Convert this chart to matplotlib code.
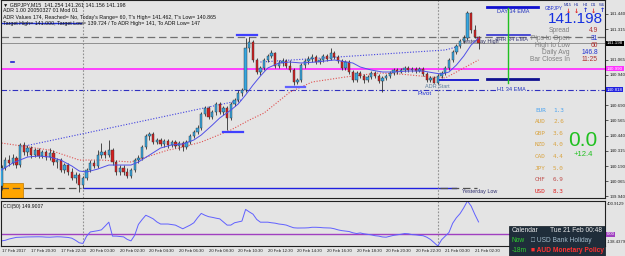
import matplotlib
matplotlib.use("Agg")
import matplotlib.pyplot as plt
from matplotlib.patches import Rectangle
import numpy as np

plt.rcParams['font.family'] = ['Liberation Sans', 'DejaVu Sans']

W, H = 625, 256
BG = '#e4e4e4'

# ---------------- data (GBPJPY M15) ----------------
opens = [140.025, 140.173, 140.239, 140.215, 140.256, 140.198, 140.363, 140.305, 140.338, 140.280,
         140.321, 140.272, 140.305, 140.264, 140.297, 140.223, 140.239, 140.157, 140.198, 140.141,
         140.091, 140.116, 140.034, 140.091, 140.157, 140.215, 140.190, 140.280, 140.305, 140.280,
         140.321, 140.223, 140.141, 140.173, 140.141, 140.108, 140.157, 140.239, 140.256, 140.346,
         140.437, 140.453, 140.387, 140.404, 140.371, 140.395, 140.363, 140.387, 140.354, 140.379,
         140.346, 140.387, 140.437, 140.469, 140.502, 140.618, 140.667, 140.593, 140.634, 140.700,
         140.634, 140.667, 140.585, 140.700, 140.733, 140.790, 140.815, 141.160, 141.210, 141.062,
         140.963, 140.996, 141.062, 141.094, 141.119, 141.012, 141.037, 141.053, 141.012, 140.979,
         140.881, 140.897, 141.020, 141.053, 141.070, 141.086, 141.045, 141.062, 141.094, 141.070,
         141.119, 141.086, 141.053, 140.996, 141.045, 140.963, 140.897, 140.955, 140.930, 140.897,
         140.922, 140.955, 140.930, 140.889, 140.914, 140.930, 140.955, 140.979, 140.963, 140.979,
         140.996, 140.979, 140.988, 140.971, 140.988, 140.946, 140.897, 140.914, 140.872, 140.930,
         140.955, 140.996, 141.062, 141.127, 141.177, 141.218, 141.242, 141.448, 141.308, 141.254]
highs = [140.198, 140.264, 140.280, 140.289, 140.272, 140.379, 140.387, 140.363, 140.354, 140.338,
         140.338, 140.321, 140.321, 140.338, 140.321, 140.256, 140.256, 140.215, 140.215, 140.173,
         140.141, 140.132, 140.108, 140.173, 140.239, 140.239, 140.321, 140.379, 140.321, 140.404,
         140.338, 140.239, 140.198, 140.198, 140.173, 140.173, 140.256, 140.280, 140.363, 140.453,
         140.469, 140.469, 140.420, 140.420, 140.412, 140.412, 140.404, 140.404, 140.395, 140.395,
         140.404, 140.453, 140.486, 140.527, 140.634, 140.683, 140.683, 140.650, 140.716, 140.716,
         140.683, 140.683, 140.716, 140.749, 140.815, 140.831, 141.242, 141.251, 141.226, 141.078,
         141.012, 141.078, 141.111, 141.144, 141.127, 141.062, 141.078, 141.070, 141.062, 140.996,
         140.914, 141.037, 141.070, 141.094, 141.111, 141.103, 141.078, 141.111, 141.111, 141.160,
         141.136, 141.103, 141.070, 141.062, 141.062, 140.979, 140.971, 140.971, 140.946, 140.938,
         140.971, 140.971, 140.946, 140.930, 140.946, 140.971, 140.996, 140.996, 140.996, 141.012,
         141.012, 141.004, 141.004, 141.004, 141.004, 140.963, 140.930, 140.930, 140.946, 140.971,
         141.012, 141.078, 141.144, 141.193, 141.234, 141.267, 141.462, 141.456, 141.349, 141.261]
lows = [139.992, 140.157, 140.190, 140.198, 140.173, 140.182, 140.280, 140.272, 140.256, 140.264,
        140.256, 140.256, 140.239, 140.239, 140.198, 140.173, 140.141, 140.132, 140.116, 140.075,
        140.050, 139.976, 140.009, 140.075, 140.141, 140.173, 140.173, 140.256, 140.256, 140.264,
        140.198, 140.116, 140.116, 140.116, 140.091, 140.091, 140.141, 140.215, 140.239, 140.330,
        140.404, 140.371, 140.371, 140.354, 140.346, 140.338, 140.346, 140.338, 140.321, 140.313,
        140.330, 140.371, 140.420, 140.453, 140.486, 140.601, 140.576, 140.576, 140.609, 140.618,
        140.609, 140.486, 140.568, 140.683, 140.716, 140.766, 140.798, 141.127, 141.045, 140.946,
        140.938, 140.979, 141.045, 141.078, 140.996, 140.996, 141.012, 140.996, 140.963, 140.856,
        140.864, 140.881, 140.996, 141.029, 141.045, 141.029, 141.029, 141.045, 141.053, 141.062,
        141.070, 141.037, 140.979, 140.979, 140.946, 140.881, 140.881, 140.914, 140.872, 140.881,
        140.905, 140.914, 140.872, 140.798, 140.897, 140.914, 140.938, 140.946, 140.955, 140.963,
        140.963, 140.963, 140.955, 140.963, 140.930, 140.881, 140.881, 140.872, 140.865, 140.914,
        140.938, 140.979, 141.045, 141.111, 141.160, 141.201, 141.226, 141.284, 141.242, 141.156]
closes = [140.173, 140.239, 140.215, 140.256, 140.198, 140.363, 140.305, 140.338, 140.280, 140.321,
          140.272, 140.305, 140.264, 140.297, 140.223, 140.239, 140.157, 140.198, 140.141, 140.091,
          140.116, 140.034, 140.091, 140.157, 140.215, 140.190, 140.280, 140.305, 140.280, 140.321,
          140.223, 140.141, 140.173, 140.141, 140.108, 140.157, 140.239, 140.256, 140.346, 140.437,
          140.453, 140.387, 140.404, 140.371, 140.395, 140.363, 140.387, 140.354, 140.379, 140.346,
          140.387, 140.437, 140.469, 140.502, 140.618, 140.667, 140.593, 140.634, 140.700, 140.634,
          140.667, 140.585, 140.700, 140.733, 140.790, 140.815, 141.160, 141.210, 141.062, 140.963,
          140.996, 141.062, 141.094, 141.119, 141.012, 141.037, 141.053, 141.012, 140.979, 140.881,
          140.897, 141.020, 141.053, 141.070, 141.086, 141.045, 141.062, 141.094, 141.070, 141.119,
          141.086, 141.053, 140.996, 141.045, 140.963, 140.897, 140.955, 140.930, 140.897, 140.922,
          140.955, 140.930, 140.889, 140.914, 140.930, 140.955, 140.979, 140.963, 140.979, 140.996,
          140.979, 140.988, 140.971, 140.988, 140.946, 140.897, 140.914, 140.872, 140.930, 140.955,
          140.996, 141.062, 141.127, 141.177, 141.218, 141.242, 141.448, 141.308, 141.254, 141.198]

# moving averages (bar index, price)
ema_idx = [0, 3, 7, 10, 13, 16, 19, 21, 23, 26, 29, 32, 35, 37, 40, 43, 46, 49, 52, 54,
           57, 59, 62, 64, 66, 68, 70, 72, 75, 78, 81, 85, 90, 95, 97, 100, 103, 106, 110, 114,
           117, 119, 121, 123, 125, 127, 129]
ema_val = [140.157, 140.215, 140.264, 140.272, 140.264, 140.239, 140.190, 140.149, 140.141, 140.165,
           140.198, 140.198, 140.198, 140.223, 140.280, 140.338, 140.363, 140.371, 140.404, 140.445,
           140.527, 140.585, 140.650, 140.700, 140.774, 140.856, 140.930, 140.996, 141.037, 141.045,
           141.037, 141.045, 141.062, 141.037, 141.004, 140.979, 140.963, 140.963, 140.971, 140.971,
           140.955, 140.946, 140.963, 141.020, 141.094, 141.185, 141.242]
slow_idx = [0, 13, 21, 27, 35, 45, 48, 54, 62, 67, 71, 78, 84, 93, 102, 108, 116, 120, 124, 129]
slow_val = [140.379, 140.321, 140.239, 140.239, 140.223, 140.321, 140.338, 140.387, 140.486, 140.568,
            140.626, 140.798, 140.881, 140.922, 140.955, 140.946, 140.922, 140.914, 140.979, 141.062]
chan1_idx = [5, 65]
chan1_val = [140.346, 140.733]
chan2_idx = [70, 120, 124]
chan2_val = [141.045, 141.144, 141.177]

# CCI(50)
cci = [-77, -70, -55, -45, -35, -33, -30, -30, -29, -29, -28, -29, -32, -33, -30, -28, -29, -32, -36, -45,
       -70, -100, -108, -20, 30, 37, 45, 55, 100, 147, -20, -20, -25, -29, -60, -77, -10, 120, 178, 230,
       210, 187, 150, 125, 125, 125, 118, 112, 90, 68, 90, 112, 140, 200, 252, 230, 213, 205, 195, 187,
       150, 112, 112, 140, 150, 160, 300, 270, 243, 180, 147, 147, 147, 140, 135, 125, 120, 112, 95, 80,
       77, 77, 78, 80, 86, 86, 84, 80, 78, 77, 68, 55, 46, 40, 35, 20, 11, 18, 8, 2,
       -5, -15, -20, -30, -33, -22, -11, -5, 2, 11, 8, -2, -5, -11, -15, -33, -60, -100, -138.4, -64,
       -20, 24, 134, 200, 250, 320, 400.9, 340, 240, 150]

# levels
yest_high = 141.250
cur_price = 141.198
magenta_lvl = 140.990
h1_ema = 140.818
yest_low = 140.009
day_ema = 141.497
h4_ema = 141.267
adr_lvl = 140.897
prev_line = 141.366

time_idx = [0, 8, 16, 24, 32, 40, 48, 56, 64, 72, 80, 88, 96, 104, 112, 120, 128]
time_lbl = ["17 Feb 2017", "17 Feb 20:30", "17 Feb 22:30", "20 Feb 00:30", "20 Feb 02:30",
            "20 Feb 04:30", "20 Feb 06:30", "20 Feb 08:30", "20 Feb 10:30", "20 Feb 12:30",
            "20 Feb 14:30", "20 Feb 16:30", "20 Feb 18:30", "20 Feb 20:30", "20 Feb 22:30",
            "21 Feb 00:30", "21 Feb 02:30"]
price_ticks = [141.440, 141.315, 141.065, 140.940, 140.690, 140.565, 140.440, 140.315,
               140.190, 140.065, 139.940]
day_breaks = [22, 118]

currencies = ["EUR", "AUD", "GBP", "NZD", "CAD", "JPY", "CHF", "USD"]
strength = [1.3, 2.6, 3.6, 4.0, 4.4, 5.0, 6.9, 8.3]
cur_colors = ['#4aa3f0', '#d9a441', '#d9a441', '#d9a441', '#d9a441', '#d9a441', '#c0504d', '#e02020']

info_lbl = ["Spread", "Pips to Open", "High to Low", "Daily Avg", "Bar Closes In"]
info_val = ["4.9", "31", "60", "146.8", "11:25"]
info_col = ['#b03030', '#2030d0', '#b03030', '#2030d0', '#b03030']

# ---------------- figure ----------------
opens = np.array(opens); highs = np.array(highs); lows = np.array(lows); closes = np.array(closes)
idx = np.arange(len(closes))

fig = plt.figure(figsize=(6.25, 2.56), dpi=100, facecolor=BG)
def fx(px): return px / W
def fy(py): return 1 - py / H

XL = (-0.16, 163.2)
YL = (139.927, 141.555)
ax = fig.add_axes([fx(1), fy(198), 604 / W, 198 / H])
ax.set_facecolor(BG)
ax.set_xlim(*XL)
ax.set_ylim(*YL)
for s in ax.spines.values():
    s.set_color('#202020'); s.set_linewidth(0.8)
ax.set_xticks([])
ax.yaxis.tick_right()
ax.set_yticks(price_ticks)
ax.set_yticklabels([f"{t:.3f}" for t in price_ticks])
ax.tick_params(axis='y', labelsize=3.2, length=2, width=0.5, pad=1, colors='#202020')

# orange box
ax.add_patch(Rectangle((-0.16, YL[0]), 6.0, 140.050 - YL[0], facecolor='#ffa500',
                       edgecolor='#c07800', lw=0.5, zorder=1))

# horizontal levels
ax.axhline(yest_high, color='#707070', lw=0.9, ls=(0, (6, 3)), zorder=1)
ax.axhline(cur_price, color='#909090', lw=0.7, zorder=1)
ax.axhline(magenta_lvl, color='#ff33ff', lw=1.3, zorder=1)
ax.axhline(h1_ema, color='#3030c0', lw=0.8, ls=(0, (5, 2, 1, 2)), zorder=1)
ax.plot([-0.16, 21.5], [prev_line, prev_line], color='#2030d0', lw=1.0, zorder=1)
ax.plot([-0.16, 21.5], [yest_low, yest_low], color='#505050', lw=0.9, ls=(0, (6, 3)), zorder=1)
ax.plot([22, 123], [yest_low, yest_low], color='#2020e0', lw=1.0, zorder=1)
ax.plot([118.5, 128.5], [yest_low, yest_low], color='#505050', lw=0.9, ls=(0, (6, 3)), zorder=1)

for d in day_breaks:
    ax.axvline(d, color='#909090', lw=0.8, ls=(0, (1.5, 1.5)), zorder=1)

# channel / MAs
ax.plot(chan1_idx, chan1_val, color='#4040e0', lw=0.8, ls=(0, (1, 1.5)), zorder=2)
ax.plot(chan2_idx, chan2_val, color='#4040e0', lw=0.8, ls=(0, (1, 1.5)), zorder=2)
ax.plot(slow_idx, slow_val, color='#e05050', lw=0.8, ls=(0, (1, 1.5)), zorder=2)

# candles
up = closes >= opens
ax.vlines(idx, lows, highs, color='#303030', lw=0.6, zorder=3)
bb = np.minimum(opens, closes)
bh = np.maximum(np.abs(closes - opens), 0.004)
ax.bar(idx[up], bh[up], bottom=bb[up], width=0.62, color='#36a6e0', edgecolor='#303030',
       linewidth=0.3, zorder=4)
ax.bar(idx[~up], bh[~up], bottom=bb[~up], width=0.62, color='#d42020', edgecolor='#303030',
       linewidth=0.3, zorder=4)

ax.plot(ema_idx, ema_val, color='#5050e8', lw=0.7, zorder=5)

# small high/low markers
ax.plot([63.7, 69], [141.267, 141.267], color='#4040ff', lw=1.6, zorder=5)
ax.plot([76.9, 82], [140.840, 140.840], color='#6060ff', lw=1.6, zorder=5)
ax.plot([59.9, 65.3], [140.469, 140.469], color='#4040ff', lw=1.6, zorder=5)
ax.plot([118.5, 128.8], [adr_lvl, adr_lvl], color='#2020d0', lw=1.4, zorder=5)
ax.plot([2.5, 3.3], [141.045, 141.045], color='#2020d0', lw=1.2, zorder=5)

# right-hand EMA markers
ax.plot([131.3, 145.1], [day_ema, day_ema], color='#1010d0', lw=2.0, zorder=5)
ax.plot([131.3, 142.9], [h4_ema, h4_ema], color='#3030d0', lw=1.2, zorder=5)
ax.plot([131.3, 145.1], [adr_lvl + 0.008, adr_lvl + 0.008], color='#101090', lw=2.0, zorder=5)
ax.plot([136.9, 136.9], [141.490, 140.872], color='#20c020', lw=1.0, zorder=5)
ax.text(138.5, day_ema - 0.015, "DAY 34 EMA", fontsize=4.0, color='#2030c0', ha='center', va='top')
ax.text(138.0, h4_ema - 0.015, "4HR 34 EMA", fontsize=4.0, color='#404080', ha='center', va='top')
ax.text(138.0, h1_ema, "H1 34 EMA", fontsize=4.0, color='#2030c0', ha='center', va='center',
        bbox=dict(facecolor=BG, edgecolor='none', pad=0.3))
ax.text(112.5, h1_ema - 0.012, "Pivot", fontsize=4.6, color='#2030d0', ha='left', va='top')
ax.text(114.5, h1_ema + 0.004, "ADR Start", fontsize=4.0, color='#6080a0', ha='left', va='bottom')
ax.text(124.5, yest_high - 0.012, "Yesterday High", fontsize=3.9, color='#303060', ha='left', va='top')
ax.text(124.5, yest_low - 0.005, "Yesterday Low", fontsize=3.9, color='#303070', ha='left', va='top')

# right axis label boxes
for val, fc, tc in [(cur_price, '#000000', 'white'), (magenta_lvl, '#ff33ff', 'white'),
                    (h1_ema, '#2020e0', 'white')]:
    ax.text(1.003, (val - YL[0]) / (YL[1] - YL[0]), f"{val:.3f}", transform=ax.transAxes,
            fontsize=3.2, color=tc, ha='left', va='center',
            bbox=dict(facecolor=fc, edgecolor='none', pad=0.5))

# header texts
hdr = [("\u25bc GBPJPY,M15  141.254 141.261 141.156 141.198", 5),
       ("ADR 1.00 20050327 01 Mod 01", 11),
       ("ADR Values 174, Reached= No, Today's Range= 60, T's High= 141.462, T's Low= 140.865", 17),
       ("Target High= 141.000, Target Low= 139.724 / To ADR High= 141, To ADR Low= 147", 23)]
for t, yy in hdr:
    fig.text(fx(3), fy(yy), t, fontsize=3.8, color='#101010', ha='left', va='center')

# info panel
fig.text(fx(545), fy(8.5), "GBPJPY", fontsize=3.3, color='#2030d0', ha='left', va='center')
tfs = ["M15", "H1", "H4", "D1", "W1"]
tfc = ['#e02020', '#e02020', '#2030d0', '#e02020', '#2030d0']
for k, (t, c) in enumerate(zip(tfs, tfc)):
    xx = 568 + k * 8.5
    fig.text(fx(xx), fy(5), t, fontsize=3.0, color='#2030a0', ha='center', va='center')
    fig.text(fx(xx), fy(11), "\u2191" if c == '#2030d0' else "\u2193", fontsize=4.5, color=c,
             ha='center', va='center', fontweight='bold', family='DejaVu Sans')
fig.text(fx(603), fy(19), "141.198", fontsize=11, color='#1530e0', ha='right', va='center')
for k, (l, v, c) in enumerate(zip(info_lbl, info_val, info_col)):
    yy = 31 + k * 7.2
    fig.text(fx(570), fy(yy), l, fontsize=4.8, color='#808080', ha='right', va='center')
    fig.text(fx(598), fy(yy), v, fontsize=4.8, color=c, ha='right', va='center')

for k, (cn, sv, cc) in enumerate(zip(currencies, strength, cur_colors)):
    yy = 110 + k * 11.6
    fig.text(fx(535), fy(yy), cn, fontsize=4.3, color=cc, ha='left', va='center', family='DejaVu Sans Mono')
    fig.text(fx(553), fy(yy), f"{sv:.1f}", fontsize=4.3, color=cc, ha='left', va='center', family='DejaVu Sans Mono')
fig.text(fx(583), fy(141), "0.0", fontsize=15, color='#20c020', ha='center', va='center')
fig.text(fx(583), fy(155), "+12.4", fontsize=5.5, color='#20c020', ha='center', va='center')

# ---------------- CCI panel ----------------
cx = fig.add_axes([fx(1), fy(246), 604 / W, 45 / H])
cx.set_facecolor(BG)
cx.set_xlim(*XL)
cx.set_ylim(-138.4379, 400.9129)
for s in cx.spines.values():
    s.set_color('#202020'); s.set_linewidth(0.8)
cx.set_yticks([])
cx.set_xticks([])
cx.axhline(0, color='#a040c0', lw=1.0)
for d in day_breaks:
    cx.axvline(d, color='#909090', lw=0.8, ls=(0, (1.5, 1.5)))
cx.plot(idx, cci, color='#6060ff', lw=0.7)
cx.text(0.004, 0.93, "CCI(50) 149.9007", transform=cx.transAxes, fontsize=3.6, color='#101010',
        ha='left', va='top')
cx.text(1.003, 0.97, "400.9129", transform=cx.transAxes, fontsize=3.1, color='#202020', ha='left', va='top')
cx.text(1.003, 0.04, "-138.4379", transform=cx.transAxes, fontsize=3.1, color='#202020', ha='left', va='bottom')
cx.text(1.003, 138.4379 / 539.3508, "0.00", transform=cx.transAxes, fontsize=3.1, color='white',
        ha='left', va='center', bbox=dict(facecolor='#a040c0', edgecolor='none', pad=0.4))

# time labels
for ti, tl in zip(time_idx, time_lbl):
    xpix = 1 + (ti - XL[0]) / (XL[1] - XL[0]) * 604
    fig.text(fx(xpix), fy(251), tl, fontsize=3.1, color='#202020', ha='left', va='center')

# calendar box
fig.patches.append(Rectangle((fx(509), fy(256)), (605 - 509) / W, 30 / H, transform=fig.transFigure,
                             facecolor='#1f2d3a', edgecolor='#101820', lw=0.5, zorder=10))
fig.text(fx(512), fy(230), "Calendar", fontsize=4.8, color='#e8e8e8', ha='left', va='center', zorder=11)
fig.text(fx(602), fy(230), "Tue 21 Feb 00:48", fontsize=4.8, color='#e8e8e8', ha='right', va='center', zorder=11)
fig.text(fx(512), fy(240.5), "Now", fontsize=4.8, color='#30d030', ha='left', va='center', zorder=11)
fig.text(fx(531), fy(240.5), "\u25a1 USD Bank Holiday", fontsize=4.8, color='#a0b8c8', ha='left', va='center', zorder=11)
fig.text(fx(512), fy(251), "-18m", fontsize=4.8, color='#30d030', ha='left', va='center', zorder=11)
fig.text(fx(531), fy(251), "\u25a0 AUD Monetary Policy", fontsize=4.8, color='#ff3030', ha='left', va='center',
         zorder=11, fontweight='bold')

fig.savefig("out.png", dpi=100, facecolor=BG)
